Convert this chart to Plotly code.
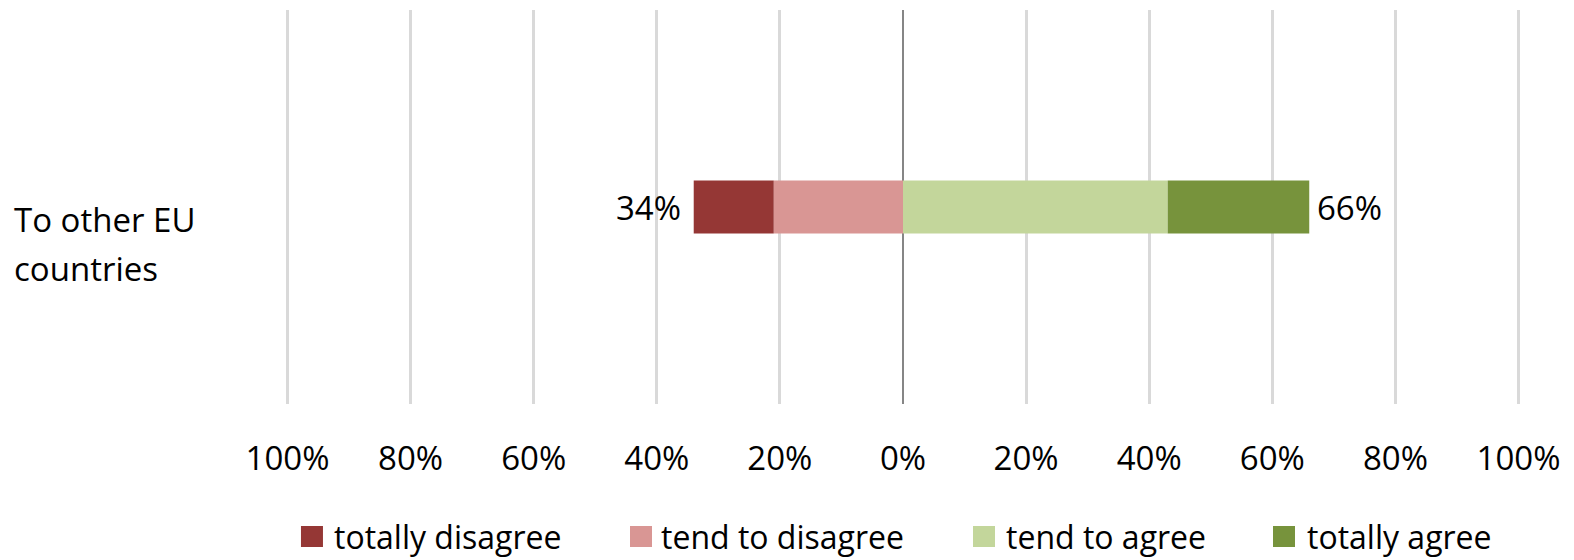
import plotly.graph_objects as go

# Survey item and response shares (percent)
category = ["To other EU countries"]
category_lines = ["To other EU", "countries"]
totally_disagree = [13]
tend_to_disagree = [21]
tend_to_agree = [43]
totally_agree = [23]

series_names = ["totally disagree", "tend to disagree", "tend to agree", "totally agree"]
series_colors = ["#953735", "#D99694", "#C3D69B", "#77933C"]

tick_vals = [-100, -80, -60, -40, -20, 0, 20, 40, 60, 80, 100]
tick_text = ["100%", "80%", "60%", "40%", "20%", "0%", "20%", "40%", "60%", "80%", "100%"]

FONT = "Segoe UI, Open Sans, sans-serif"
FS = 33
BAR_W = 0.1345

# Canvas / plot-area geometry in pixels
W, H = 1574, 560
PAD = 0.4                      # small range padding so the edge gridlines render
PX_PER_UNIT = 6.156
L = 287.5 - PAD * PX_PER_UNIT
R = W - (1518.5 + PAD * PX_PER_UNIT)
T, B = 10, 156
plot_w = W - L - R
plot_h = H - T - B


def px_to_paper_x(px):
    return (px - L) / plot_w


def px_to_paper_y(py):
    return (H - B - py) / plot_h


color_of = dict(zip(series_names, series_colors))

fig = go.Figure()

# Negative side stacks outward from zero: inner segment first
for name, vals in [("tend to disagree", tend_to_disagree), ("totally disagree", totally_disagree)]:
    fig.add_trace(go.Bar(
        y=category, x=[-v for v in vals], orientation="h", name=name,
        marker=dict(color=color_of[name], line_width=0), width=BAR_W,
        hoverinfo="skip", showlegend=False,
    ))
# Positive side
for name, vals in [("tend to agree", tend_to_agree), ("totally agree", totally_agree)]:
    fig.add_trace(go.Bar(
        y=category, x=vals, orientation="h", name=name,
        marker=dict(color=color_of[name], line_width=0), width=BAR_W,
        hoverinfo="skip", showlegend=False,
    ))

# Totals at the ends of each side
disagree_total = [a + b for a, b in zip(totally_disagree, tend_to_disagree)]
agree_total = [a + b for a, b in zip(tend_to_agree, totally_agree)]
for cat, d, a in zip(category, disagree_total, agree_total):
    fig.add_annotation(x=-d, y=cat, text=f"{d}%", showarrow=False,
                       xanchor="right", xshift=-11, font=dict(size=FS, color="#000000", family=FONT))
    fig.add_annotation(x=a, y=cat, text=f"{a}%", showarrow=False,
                       xanchor="left", xshift=6, font=dict(size=FS, color="#000000", family=FONT))

# Left-aligned, two-line category label
for line, cy in zip(category_lines, [219, 268]):
    fig.add_annotation(x=px_to_paper_x(12), xref="paper", y=px_to_paper_y(cy), yref="paper",
                       text=line, showarrow=False, xanchor="left", yanchor="middle",
                       font=dict(size=FS, color="#000000", family=FONT))

# Legend row: colour swatch + label
swatch_x = [301, 630, 973, 1273]
label_x = [332, 659.5, 1004, 1305]
for name, color, sx, lx in zip(series_names, series_colors, swatch_x, label_x):
    fig.add_shape(type="rect", xref="paper", yref="paper",
                  x0=px_to_paper_x(sx), x1=px_to_paper_x(sx + 22),
                  y0=px_to_paper_y(547), y1=px_to_paper_y(526),
                  fillcolor=color, line_width=0, layer="above")
    fig.add_annotation(x=px_to_paper_x(lx), xref="paper", y=px_to_paper_y(536), yref="paper",
                       text=name, showarrow=False, xanchor="left", yanchor="middle",
                       font=dict(size=32, color="#000000", family=FONT))

fig.update_layout(
    barmode="relative",
    width=W, height=H,
    margin=dict(l=L, r=R, t=T, b=B, autoexpand=False),
    paper_bgcolor="white", plot_bgcolor="white",
    font=dict(family=FONT, size=FS, color="#000000"),
    showlegend=False,
    xaxis=dict(range=[-100 - PAD, 100 + PAD], tickvals=tick_vals, ticktext=tick_text,
               showgrid=True, gridcolor="#D9D9D9", gridwidth=2.5,
               zeroline=True, zerolinecolor="#868686", zerolinewidth=2,
               showline=False, ticks="", ticklabelstandoff=32,
               tickfont=dict(size=FS, family=FONT, color="#000000"), fixedrange=True),
    yaxis=dict(range=[-0.5, 0.5], showticklabels=False, showgrid=False,
               zeroline=False, showline=False, ticks="", fixedrange=True),
)

fig.write_html("out.html")
